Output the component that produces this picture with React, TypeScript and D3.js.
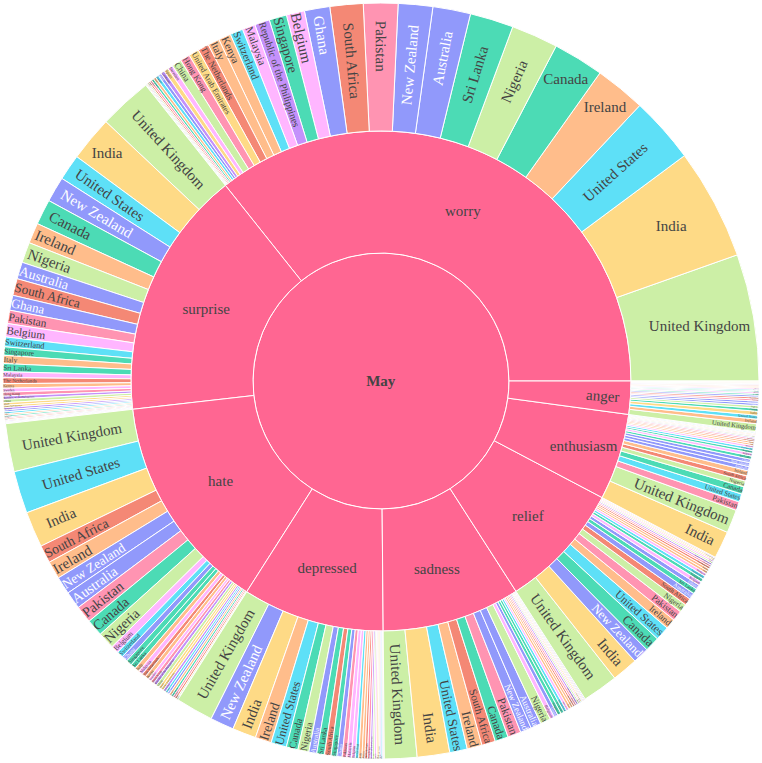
import React, { useRef, useEffect } from 'react';
import * as d3 from 'd3';

// sunburst: month -> emotion -> country (tweet counts)
const rootLabel = 'May';
const emotions = ['worry', 'surprise', 'hate', 'depressed', 'sadness', 'relief', 'enthusiasm', 'anger'];

const worryCountries = ['United Kingdom', 'India', 'United States', 'Ireland', 'Canada', 'Nigeria', 'Sri Lanka', 'Australia', 'New Zealand', 'Pakistan', 'South Africa', 'Ghana', 'Belgium', 'Singapore', 'Republic of the Philippines', 'Malaysia', 'Switzerland', 'Kenya', 'Italy', 'The Netherlands', 'United Arab Emirates', 'Hong Kong', 'China', 'Sweden', 'Spain', 'Germany', 'Japan', 'France', 'Israel', 'Bangladesh', 'Thailand', 'Nepal', 'Jamaica', 'Mexico', 'Brazil', 'Egypt'];
const worryCounts = [390, 342, 204, 156, 156, 144, 134, 116, 106, 106, 102, 78, 56, 54, 46, 40, 40, 38, 36, 34, 32, 30, 30, 16, 14, 12, 10, 10, 8, 7, 6, 5, 4, 3, 3, 2];

const surpriseCountries = ['United Kingdom', 'India', 'United States', 'New Zealand', 'Canada', 'Ireland', 'Nigeria', 'Australia', 'South Africa', 'Ghana', 'Pakistan', 'Belgium', 'Switzerland', 'Singapore', 'Italy', 'Sri Lanka', 'Malaysia', 'The Netherlands', 'Kenya', 'Sweden', 'Hong Kong', 'Republic of the Philippines', 'China', 'Spain', 'United Arab Emirates', 'Germany', 'Japan', 'France', 'Israel', 'Bangladesh', 'Thailand', 'Nepal', 'Jamaica', 'Mexico', 'Brazil', 'Egypt', 'Qatar'];
const surpriseCounts = [164, 138, 80, 78, 78, 63, 63, 52, 52, 46, 41, 41, 30, 26, 25, 25, 18, 18, 14, 12, 12, 10, 10, 8, 7, 7, 6, 6, 5, 5, 4, 4, 3, 3, 2, 2, 2];

const hateCountries = ['United Kingdom', 'United States', 'India', 'South Africa', 'Ireland', 'New Zealand', 'Australia', 'Pakistan', 'Canada', 'Nigeria', 'Belgium', 'Switzerland', 'Ghana', 'Singapore', 'Sri Lanka', 'Italy', 'Malaysia', 'The Netherlands', 'Kenya', 'Sweden', 'Hong Kong', 'Republic of the Philippines', 'China', 'Spain', 'United Arab Emirates', 'Germany', 'France', 'Japan', 'Israel', 'Bangladesh', 'Thailand', 'Nepal', 'Jamaica', 'Mexico'];
const hateCounts = [148, 130, 110, 55, 55, 54, 54, 53, 52, 52, 24, 20, 18, 18, 16, 14, 14, 12, 12, 10, 10, 10, 10, 8, 8, 8, 7, 7, 7, 7, 6, 6, 4, 1];

const depressedCountries = ['United Kingdom', 'New Zealand', 'India', 'Ireland', 'United States', 'Canada', 'Nigeria', 'Australia', 'Sri Lanka', 'South Africa', 'Singapore', 'Ghana', 'Pakistan', 'Malaysia', 'Belgium', 'Switzerland', 'Italy', 'Kenya', 'The Netherlands', 'Hong Kong', 'Republic of the Philippines', 'China', 'Sweden', 'Spain', 'United Arab Emirates', 'Germany', 'France', 'Japan', 'Israel'];
const depressedCounts = [116, 73, 73, 50, 48, 36, 34, 24, 24, 20, 18, 16, 14, 14, 12, 10, 10, 9, 8, 8, 7, 6, 6, 5, 5, 4, 4, 3, 3];

const sadnessCountries = ['United Kingdom', 'India', 'United States', 'Ireland', 'South Africa', 'Canada', 'Pakistan', 'New Zealand', 'Australia', 'Nigeria', 'Belgium', 'Ghana', 'Singapore', 'Sri Lanka', 'Switzerland', 'Malaysia', 'Italy', 'Kenya', 'The Netherlands', 'Hong Kong', 'Republic of the Philippines', 'China', 'Sweden', 'United Arab Emirates', 'Spain', 'Germany', 'Israel', 'Japan'];
const sadnessCounts = [100, 100, 54, 46, 42, 41, 41, 34, 32, 32, 14, 12, 11, 10, 9, 8, 8, 7, 6, 6, 6, 5, 4, 4, 3, 3, 3, 3];

const reliefCountries = ['United Kingdom', 'India', 'New Zealand', 'Canada', 'United States', 'Ireland', 'Pakistan', 'Nigeria', 'South Africa', 'Australia', 'Sri Lanka', 'Ghana', 'Belgium', 'Singapore', 'Switzerland', 'Malaysia', 'Italy', 'Kenya', 'The Netherlands', 'Hong Kong', 'Republic of the Philippines', 'China', 'Sweden', 'Spain', 'United Arab Emirates', 'Germany'];
const reliefCounts = [110, 80, 50, 46, 44, 32, 32, 26, 22, 20, 16, 14, 12, 11, 10, 9, 8, 8, 7, 6, 6, 5, 5, 4, 4, 3];

const enthusiasmCountries = ['India', 'United Kingdom', 'Pakistan', 'United States', 'Canada', 'Nigeria', 'South Africa', 'Ireland', 'Australia', 'New Zealand', 'Ghana', 'Sri Lanka', 'Belgium', 'Singapore', 'Switzerland', 'Malaysia', 'Italy', 'Kenya', 'The Netherlands', 'Hong Kong', 'Republic of the Philippines', 'China', 'Sweden', 'Spain', 'United Arab Emirates', 'Germany', 'France', 'Japan'];
const enthusiasmCounts = [84, 72, 27, 25, 23, 18, 16, 16, 13, 12, 11, 10, 9, 8, 8, 7, 6, 6, 5, 5, 4, 4, 3, 3, 2, 2, 2, 1];

const angerCountries = ['United Kingdom', 'Ireland', 'United States', 'India', 'Canada', 'Nigeria', 'Australia', 'New Zealand', 'Pakistan', 'South Africa', 'Ghana', 'Sri Lanka', 'Belgium', 'Singapore', 'Switzerland', 'Malaysia', 'Italy', 'Kenya', 'The Netherlands', 'Hong Kong', 'Republic of the Philippines', 'China', 'Sweden', 'Spain', 'United Arab Emirates'];
const angerCounts = [24, 14, 12, 12, 9, 8, 7, 7, 6, 6, 6, 5, 5, 4, 4, 4, 3, 3, 3, 2, 2, 2, 2, 2, 2];

const emotionCountries = [worryCountries, surpriseCountries, hateCountries, depressedCountries, sadnessCountries, reliefCountries, enthusiasmCountries, angerCountries];
const emotionCounts = [worryCounts, surpriseCounts, hateCounts, depressedCounts, sadnessCounts, reliefCounts, enthusiasmCounts, angerCounts];

const countryColors: Record<string, string> = {
  'United Kingdom': '#B6E880',
  India: '#FECB52',
  'United States': '#19D3F3',
  Ireland: '#FFA15A',
  Canada: '#00CC96',
  Nigeria: '#B6E880',
  'Sri Lanka': '#00CC96',
  Australia: '#636EFA',
  'New Zealand': '#636EFA',
  Pakistan: '#FF6692',
  'South Africa': '#EF553B',
  Ghana: '#636EFA',
  Belgium: '#FF97FF',
  Singapore: '#00CC96',
  'Republic of the Philippines': '#AB63FA',
  Malaysia: '#FF97FF',
  Switzerland: '#19D3F3',
  Kenya: '#FFA15A',
  Italy: '#FFA15A',
  'The Netherlands': '#EF553B',
  'United Arab Emirates': '#FECB52',
  'Hong Kong': '#FF6692',
  China: '#B6E880',
  Sweden: '#FF97FF',
  Spain: '#FECB52',
  Germany: '#AB63FA',
  Japan: '#636EFA',
  France: '#19D3F3',
  Israel: '#FFA15A',
  Bangladesh: '#00CC96',
  Thailand: '#FF6692',
  Nepal: '#EF553B',
  Jamaica: '#B6E880',
  Mexico: '#AB63FA',
  Brazil: '#FECB52',
  Egypt: '#19D3F3',
  Qatar: '#FF97FF',
};
const parentColor = '#FF6692';

const W = 762;
const H = 763;
const cx = 381;
const cy = 381;
const radii = [0, 128, 250, 378];
const fontSize = 15;
const fontFamily = '"Liberation Serif", "Times New Roman", serif';

// same fit rules as plotly's inside text (horizontal / radial / tangential)
function calcMaxHalfSize(a: number, halfAngle: number, r: number, ring: number) {
  const q = a + 1 / (2 * Math.tan(halfAngle));
  return r * Math.min(1 / (Math.sqrt(q * q + 0.5) + q), ring / (Math.sqrt(a * a + ring / 2) + a));
}
function calcRotate(t: number) {
  return ((180 / Math.PI) * t + 720) % 180 - 90;
}
function textColor(hex: string) {
  const c = d3.rgb(hex);
  const b = (c.r * 299 + c.g * 587 + c.b * 114) / 1000;
  return b >= 128 ? '#444' : '#ffffff';
}

const App: React.FC = () => {
  const svgRef = useRef<SVGSVGElement | null>(null);

  useEffect(() => {
    if (!svgRef.current) return;
    const svg = d3.select(svgRef.current);
    svg.selectAll('*').remove();

    const tree = {
      name: rootLabel,
      children: emotions.map((e, i) => ({
        name: e,
        children: emotionCountries[i].map((c, j) => ({ name: c, value: emotionCounts[i][j] })),
      })),
    };
    const root = d3.hierarchy<any>(tree).sum((d: any) => d.value || 0);
    d3.partition<any>().size([2 * Math.PI, root.height + 1])(root);
    const nodes = root.descendants() as any[];

    const arc = d3
      .arc<any>()
      .innerRadius((d) => radii[d.depth])
      .outerRadius((d) => radii[d.depth + 1])
      .startAngle((d) => Math.PI / 2 - d.x1)
      .endAngle((d) => Math.PI / 2 - d.x0);

    const g = svg.append('g').attr('transform', `translate(${cx},${cy})`);

    g.selectAll('path')
      .data(nodes)
      .enter()
      .append('path')
      .attr('d', arc)
      .attr('fill', (d) => (d.depth === 2 ? countryColors[d.data.name] : parentColor))
      .attr('fill-opacity', (d) => (d.depth === 2 ? 0.7 : 1))
      .attr('stroke', '#ffffff')
      .attr('stroke-width', 1);

    const labels = svg.append('g');
    nodes.forEach((d) => {
      const rpx0 = radii[d.depth];
      const rpx1 = radii[d.depth + 1];
      const span = d.x1 - d.x0;
      const isFull = span >= 2 * Math.PI - 1e-9;
      const halfAngle = 0.5 * Math.min(isFull ? Math.PI : span, Math.PI);
      const ring = 1 - rpx0 / rpx1;
      const rInscribed =
        rpx0 === 0 && isFull ? 1 : Math.max(0, Math.min(1 / (1 + 1 / Math.sin(halfAngle)), ring / 2));
      const mid = Math.PI / 2 - (d.x0 + d.x1) / 2;
      const fill = d.depth === 2 ? countryColors[d.data.name] : parentColor;

      const t = labels
        .append('text')
        .attr('text-anchor', 'middle')
        .style('font-family', fontFamily)
        .style('font-size', `${fontSize}px`)
        .style('font-weight', d.depth === 0 ? 'bold' : 'normal')
        .attr('fill', textColor(fill))
        .text(d.data.name);
      const bb = (t.node() as SVGTextElement).getBBox();
      const w = bb.width;
      const h = bb.height;

      const options: { scale: number; rCenter: number; rotate: number }[] = [];
      const diam = Math.sqrt(w * w + h * h);
      let chosen = { scale: (rInscribed * rpx1 * 2) / diam, rCenter: 1 - rInscribed, rotate: 0 };
      if (chosen.scale < 1 && !isFull) {
        options.push(chosen);
        let a = w / h;
        let s = calcMaxHalfSize(a, halfAngle, rpx1, ring);
        options.push({ scale: (s * 2) / h, rCenter: Math.cos(s / rpx1) - (a * s) / rpx1, rotate: calcRotate(mid) });
        a = h / w;
        s = calcMaxHalfSize(a, halfAngle, rpx1, ring);
        options.push({
          scale: (s * 2) / w,
          rCenter: Math.cos(s / rpx1) - (a * s) / rpx1,
          rotate: calcRotate(mid + Math.PI / 2),
        });
        let best = 0;
        options.forEach((o, k) => {
          if (o.scale > options[best].scale) best = k;
        });
        chosen = options[best];
      }

      const scale = Math.min(1, chosen.scale);
      if (scale * fontSize < 1.2) {
        t.remove();
        return;
      }
      const rr = rpx1 * chosen.rCenter;
      const tx = cx + rr * Math.sin(mid);
      const ty = cy - rr * Math.cos(mid);
      const mx = bb.x + w / 2;
      const my = bb.y + h / 2;
      t.attr(
        'transform',
        `translate(${tx},${ty}) rotate(${chosen.rotate}) scale(${scale}) translate(${-mx},${-my})`
      );
    });
  }, []);

  return (
    <svg
      ref={svgRef}
      width={W}
      height={H}
      style={{ position: 'absolute', left: 0, top: 0, background: '#ffffff' }}
    />
  );
};

export default App;
